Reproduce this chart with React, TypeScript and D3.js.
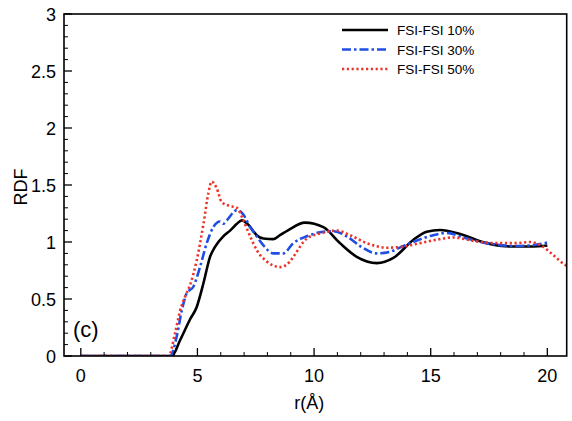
import React from "react";
import * as d3 from "d3";

const xTicks = [0, 5, 10, 15, 20];
const yTicks = [0, 0.5, 1, 1.5, 2, 2.5, 3];
const yTickLabels = ["0", "0.5", "1", "1.5", "2", "2.5", "3"];
const seriesNames = ["FSI-FSI 10%", "FSI-FSI 30%", "FSI-FSI 50%"];

const fsi10: [number, number][] = [
  [0, 0], [3.9, 0], [4.26, 0.14], [4.68, 0.32], [4.97, 0.43], [5.26, 0.64], [5.54, 0.87],
  [5.76, 0.96], [6.11, 1.05], [6.4, 1.1], [6.69, 1.16], [6.9, 1.19], [7.19, 1.15],
  [7.54, 1.06], [7.83, 1.03], [8.26, 1.025], [8.54, 1.06], [8.9, 1.105], [9.61, 1.17],
  [10.4, 1.13], [11.11, 0.99], [11.83, 0.87], [12.69, 0.815], [13.4, 0.86], [14.26, 1.02],
  [14.83, 1.09], [15.4, 1.105], [16.26, 1.07], [17.4, 0.99], [18.5, 0.96], [19.3, 0.96], [20.0, 0.97],
];

const fsi30: [number, number][] = [
  [0, 0], [3.83, 0], [4.11, 0.17], [4.33, 0.4], [4.54, 0.55], [4.83, 0.61], [5.11, 0.78],
  [5.4, 0.99], [5.68, 1.13], [5.97, 1.18], [6.11, 1.16], [6.26, 1.19], [6.69, 1.28],
  [6.97, 1.24], [7.26, 1.13], [7.54, 1.05], [7.83, 0.97], [8.26, 0.9], [8.68, 0.9],
  [9.11, 0.99], [9.69, 1.05], [10.26, 1.085], [10.83, 1.095], [11.4, 1.05], [12.0, 0.96],
  [12.69, 0.9], [13.26, 0.915], [13.83, 0.965], [14.5, 1.02], [15.11, 1.06], [15.69, 1.08],
  [16.55, 1.03], [17.4, 0.99], [18.54, 0.965], [19.26, 0.97], [20.0, 0.995],
];

const fsi50: [number, number][] = [
  [0, 0], [3.76, 0], [4.04, 0.2], [4.26, 0.4], [4.47, 0.52], [4.68, 0.62], [4.97, 0.84],
  [5.26, 1.16], [5.47, 1.43], [5.61, 1.53], [5.83, 1.47], [6.04, 1.35], [6.33, 1.32],
  [6.69, 1.3], [6.97, 1.19], [7.26, 1.05], [7.54, 0.93], [7.97, 0.83], [8.54, 0.78],
  [8.97, 0.83], [9.11, 0.87], [9.69, 1.03], [10.26, 1.075], [10.97, 1.1], [11.54, 1.06],
  [12.26, 0.99], [13.12, 0.95], [13.83, 0.96], [14.54, 0.99], [15.26, 1.02], [15.97, 1.04],
  [16.83, 1.01], [17.69, 0.99], [18.69, 0.99], [19.26, 1.0], [19.69, 0.975], [20.26, 0.885],
  [20.76, 0.8], [21.0, 0.78],
];

const W = 572;
const H = 421;
const L = 64, R = 566.7, T = 14, B = 356;
const font = "'Liberation Sans', Arial, Helvetica, sans-serif";

export default function App() {
  const x = d3.scaleLinear().domain([-0.72, 20.83]).range([L, R]);
  const y = d3.scaleLinear().domain([0, 3]).range([B, T]);
  const line = d3
    .line<[number, number]>()
    .x((d) => x(d[0]))
    .y((d) => y(d[1]))
    .curve(d3.curveMonotoneX);

  const xMinor = d3.range(0, 21, 1).filter((v) => v % 5 !== 0);
  const yMinor = d3.range(0, 30, 1).map((v) => v / 10).filter((v) => Math.round(v * 10) % 5 !== 0);

  const styles = [
    { data: fsi10, color: "#000000", dash: "none", width: 2.6 },
    { data: fsi30, color: "#1f4ee6", dash: "9,3,2.5,3", width: 2.6 },
    { data: fsi50, color: "#ec3328", dash: "2.2,2.6", width: 2.6 },
  ];

  return (
    <svg width={W} height={H} style={{ position: "absolute", left: 0, top: 0, background: "#fff" }}>
      <defs>
        <clipPath id="plot">
          <rect x={L} y={T} width={R - L} height={B - T} />
        </clipPath>
      </defs>
      <rect x={0} y={0} width={W} height={H} fill="#fff" />
      <g clipPath="url(#plot)">
        {styles.map((s, i) => (
          <path
            key={i}
            d={line(s.data) || ""}
            fill="none"
            stroke={s.color}
            strokeWidth={s.width}
            strokeDasharray={s.dash}
            strokeLinejoin="round"
          />
        ))}
      </g>
      {xTicks.map((t) => (
        <line key={"xt" + t} x1={x(t)} x2={x(t)} y1={B} y2={B - 8} stroke="#000" strokeWidth={1.3} />
      ))}
      {xMinor.map((t) => (
        <line key={"xm" + t} x1={x(t)} x2={x(t)} y1={B} y2={B - 4} stroke="#000" strokeWidth={1} />
      ))}
      {yTicks.map((t) => (
        <line key={"yt" + t} x1={L} x2={L + 8} y1={y(t)} y2={y(t)} stroke="#000" strokeWidth={1.3} />
      ))}
      {yMinor.map((t) => (
        <line key={"ym" + t} x1={L} x2={L + 4} y1={y(t)} y2={y(t)} stroke="#000" strokeWidth={1} />
      ))}
      <rect x={L} y={T} width={R - L} height={B - T} fill="none" stroke="#000" strokeWidth={1.6} />
      {xTicks.map((t) => (
        <text key={"xl" + t} x={x(t)} y={382} textAnchor="middle" fontFamily={font} fontSize={18}>
          {t}
        </text>
      ))}
      {yTicks.map((t, i) => (
        <text key={"yl" + t} x={56} y={y(t) + 6.5} textAnchor="end" fontFamily={font} fontSize={18}>
          {yTickLabels[i]}
        </text>
      ))}
      <text x={(L + R) / 2 - 6} y={409} textAnchor="middle" fontFamily={font} fontSize={18}>
        r(Å)
      </text>
      <text
        transform={`translate(27,187) rotate(-90)`}
        textAnchor="middle"
        fontFamily={font}
        fontSize={18}
      >
        RDF
      </text>
      <text x={73} y={337} fontFamily={font} fontSize={22}>
        (c)
      </text>
      {styles.map((s, i) => (
        <g key={"lg" + i}>
          <line
            x1={342}
            x2={388}
            y1={30 + i * 19.5}
            y2={30 + i * 19.5}
            stroke={s.color}
            strokeWidth={2.6}
            strokeDasharray={s.dash}
          />
          <text x={397} y={30 + i * 19.5 + 5} fontFamily={font} fontSize={13.5}>
            {seriesNames[i]}
          </text>
        </g>
      ))}
    </svg>
  );
}
